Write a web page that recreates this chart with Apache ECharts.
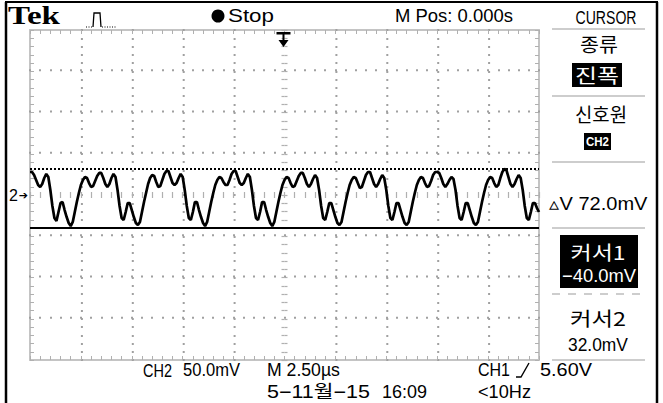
<!DOCTYPE html>
<html><head><meta charset="utf-8">
<script src="https://cdn.jsdelivr.net/npm/echarts@6/dist/echarts.min.js"></script>
<style>html,body{margin:0;padding:0;background:#fff;overflow:hidden}#c{width:663px;height:403px}</style>
</head><body><div id="c"></div>
<script>
// ---- data: CH2 trace, one reading per 0.1 us screen column ----
const timeUs = [
 -12.5,-12.4,-12.3,-12.2,-12.1,-12.0,-11.9,-11.8,-11.7,-11.6,
 -11.5,-11.4,-11.3,-11.2,-11.1,-11.0,-10.9,-10.8,-10.7,-10.6,
 -10.5,-10.4,-10.3,-10.2,-10.1,-10.0,-9.9,-9.8,-9.7,-9.6,
 -9.5,-9.4,-9.3,-9.2,-9.1,-9.0,-8.9,-8.8,-8.7,-8.6,
 -8.5,-8.4,-8.3,-8.2,-8.1,-8.0,-7.9,-7.8,-7.7,-7.6,
 -7.5,-7.4,-7.3,-7.2,-7.1,-7.0,-6.9,-6.8,-6.7,-6.6,
 -6.5,-6.4,-6.3,-6.2,-6.1,-6.0,-5.9,-5.8,-5.7,-5.6,
 -5.5,-5.4,-5.3,-5.2,-5.1,-5.0,-4.9,-4.8,-4.7,-4.6,
 -4.5,-4.4,-4.3,-4.2,-4.1,-4.0,-3.9,-3.8,-3.7,-3.6,
 -3.5,-3.4,-3.3,-3.2,-3.1,-3.0,-2.9,-2.8,-2.7,-2.6,
 -2.5,-2.4,-2.3,-2.2,-2.1,-2.0,-1.9,-1.8,-1.7,-1.6,
 -1.5,-1.4,-1.3,-1.2,-1.1,-1.0,-0.9,-0.8,-0.7,-0.6,
 -0.5,-0.4,-0.3,-0.2,-0.1,0.0,0.1,0.2,0.3,0.4,
 0.5,0.6,0.7,0.8,0.9,1.0,1.1,1.2,1.3,1.4,
 1.5,1.6,1.7,1.8,1.9,2.0,2.1,2.2,2.3,2.4,
 2.5,2.6,2.7,2.8,2.9,3.0,3.1,3.2,3.3,3.4,
 3.5,3.6,3.7,3.8,3.9,4.0,4.1,4.2,4.3,4.4,
 4.5,4.6,4.7,4.8,4.9,5.0,5.1,5.2,5.3,5.4,
 5.5,5.6,5.7,5.8,5.9,6.0,6.1,6.2,6.3,6.4,
 6.5,6.6,6.7,6.8,6.9,7.0,7.1,7.2,7.3,7.4,
 7.5,7.6,7.7,7.8,7.9,8.0,8.1,8.2,8.3,8.4,
 8.5,8.6,8.7,8.8,8.9,9.0,9.1,9.2,9.3,9.4,
 9.5,9.6,9.7,9.8,9.9,10.0,10.1,10.2,10.3,10.4,
 10.5,10.6,10.7,10.8,10.9,11.0,11.1,11.2,11.3,11.4,
 11.5,11.6,11.7,11.8,11.9,12.0,12.1,12.2,12.3,12.4,
 12.5
];
const ch2mV = [
 // partial cycle at the left edge
 27.9,27.9,24.2,18.2,12.1,9.7,13.3,20.6,25.5,21.8,6.1,-13.3,-27.9,-31.5,-20.6,-9.7,-8.5,-18.2,-26.7,-33.9,
 // cycle 1
 -37.6,-32.7,-20.6,-8.5,2.4,12.1,18.2,21.8,20.6,14.5,9.7,10.9,17.0,23.0,26.7,26.7,20.6,13.3,9.7,13.3,
 20.6,25.5,21.8,6.1,-13.3,-27.9,-30.3,-20.6,-9.7,-9.7,-18.2,-26.7,-33.9,
 // cycle 2
 -36.4,-32.7,-20.6,-8.5,2.4,13.3,20.6,24.2,23.0,15.8,9.7,10.9,18.2,25.5,29.1,29.1,21.8,14.5,12.1,14.5,
 20.6,25.5,21.8,6.1,-13.3,-27.9,-30.3,-20.6,-8.5,-8.5,-18.2,-26.7,-33.9,
 // cycle 3
 -37.6,-32.7,-20.6,-8.5,2.4,12.1,18.2,21.8,20.6,15.8,12.1,12.1,18.2,25.5,29.1,29.1,21.8,14.5,12.1,14.5,
 20.6,25.5,21.8,6.1,-13.3,-27.9,-30.3,-20.6,-8.5,-8.5,-18.2,-26.7,-33.9,
 // cycle 4
 -37.6,-32.7,-20.6,-8.5,2.4,12.1,18.2,21.8,20.6,14.5,9.7,10.9,17.0,23.0,26.7,26.7,20.6,13.3,9.7,13.3,
 19.4,24.2,20.6,6.1,-13.3,-27.9,-30.3,-20.6,-9.7,-9.7,-18.2,-26.7,-33.9,
 // cycle 5
 -36.4,-32.7,-20.6,-8.5,2.4,12.1,18.2,21.8,20.6,14.5,8.5,9.7,17.0,24.2,27.9,27.9,20.6,13.3,9.7,13.3,
 19.4,24.2,20.6,6.1,-13.3,-27.9,-30.3,-20.6,-9.7,-9.7,-18.2,-26.7,-33.9,
 // cycle 6
 -36.4,-32.7,-20.6,-8.5,2.4,12.1,18.2,21.8,20.6,14.5,9.7,10.9,17.0,24.2,27.9,27.9,26.7,20.6,13.3,9.7,
 13.3,18.2,21.8,19.4,6.1,-13.3,-27.9,-30.3,-20.6,-9.7,-9.7,-18.2,-26.7,-33.9,
 // cycle 7 (cut at the right edge)
 -36.4,-32.7,-20.6,-8.5,2.4,12.1,18.2,21.8,20.6,14.5,9.7,12.1,20.6,27.9,31.5,30.3,21.8,13.3,9.7,13.3,
 19.4,24.2,20.6,6.1,-13.3,-27.9,-30.3,-20.6,-9.7,-9.7,-15.8,-20.6
];
const cursor1mV = -40.0;
const cursor2mV = 32.0;
const triggerUs = 0;
const xRange = [-12.5, 12.5];   // 10 div x 2.50 us
const xDivUs = 2.5;
const yRange = [-200, 200];     // 8 div x 50.0 mV
const yDivMv = 50;
const groundLabel = '2';

// ---- texts ----
const topTexts = ['Tek', 'Stop', 'M Pos: 0.000s', 'CURSOR'];
const menuTexts = ['종류', '진폭', '신호원', 'CH2', '▵V 72.0mV', '커서1', '−40.0mV', '커서2', '32.0mV'];
const bottomTexts = ['CH2', '50.0mV', 'M 2.50µs', 'CH1', '5.60V', '5−11월−15', '16:09', '<10Hz'];

const SANS = '"Liberation Sans", "Noto Sans CJK KR", sans-serif';
const KR = '"Noto Sans CJK KR", sans-serif';
const grid = {left: 30, top: 30, width: 509, height: 330};
const tickC = '#b0b0b0';
const borderC = '#c4c4c4';
const dotC = '#a0a0a0';

const mctx = document.createElement('canvas').getContext('2d');
function fit(t, x, y, w, font, align, fill) {
  mctx.font = font;
  const m = mctx.measureText(t).width || w;
  return {
    type: 'text', x: x, y: y, scaleX: w / m, z: 100,
    style: {text: t, x: 0, y: 0, font: font, fill: fill || '#000',
      textAlign: align || 'left', textVerticalAlign: 'middle'}
  };
}
function line(x1, y1, x2, y2, c, w, dash) {
  return {type: 'line', z: 90, shape: {x1, y1, x2, y2},
    style: {stroke: c, lineWidth: w, lineDash: dash || null}};
}
function box(x, y, w, h) {
  return {type: 'rect', z: 95, shape: {x, y, width: w, height: h}, style: {fill: '#000'}};
}
const L18 = '18px ' + SANS;
const K19 = '19px ' + KR;

const graphics = [
  // frame
  line(6, 2, 6, 403, '#000', 2.5),
  line(657, 2, 657, 403, '#000', 2.5),
  line(5, 2, 658, 2, '#000', 2),
  // top row
  fit(topTexts[0], 8, 15, 52, 'bold 25px "Liberation Serif", serif'),
  line(86, 27, 93, 27, '#000', 1, [1, 1.5]),
  {type: 'polyline', z: 90, shape: {points: [[93, 27], [94, 13], [100, 13], [101, 27]]}, style: {stroke: '#000', lineWidth: 1.3, fill: null}},
  line(102, 27, 117, 27, '#000', 1, [1, 1.5]),
  {type: 'circle', z: 90, shape: {cx: 218, cy: 16, r: 6.5}, style: {fill: '#000'}},
  fit(topTexts[1], 228, 16, 46, L18),
  fit(topTexts[2], 395, 16, 118, L18),
  fit(topTexts[3], 606, 17, 61, L18, 'center'),
  // menu panel
  line(552, 29, 645, 29, '#bdbdbd', 1.5),
  fit(menuTexts[0], 599, 44, 38, K19, 'center'),
  box(572, 63, 50, 24),
  fit(menuTexts[1], 597, 75, 44, K19, 'center', '#fff'),
  line(552, 96, 645, 96, '#bdbdbd', 1.5),
  fit(menuTexts[2], 601, 113, 52, K19, 'center'),
  box(584, 133, 27, 17),
  fit(menuTexts[3], 597.5, 141.5, 23, 'bold 13px ' + SANS, 'center', '#fff'),
  line(552, 162, 645, 162, '#bdbdbd', 1.5),
  fit(menuTexts[4], 549, 204, 98, L18),
  line(552, 228, 645, 228, '#bdbdbd', 1.5),
  box(560, 235, 78, 53),
  fit(menuTexts[5], 598, 252, 55, K19, 'center', '#fff'),
  fit(menuTexts[6], 599, 276, 74, L18, 'center', '#fff'),
  line(552, 294, 645, 294, '#bdbdbd', 1.5, [8, 8]),
  fit(menuTexts[7], 598, 318, 56, K19, 'center'),
  fit(menuTexts[8], 598, 345, 60, L18, 'center'),
  line(552, 360, 645, 360, '#bdbdbd', 1.5),
  // bottom rows
  fit(bottomTexts[0], 143, 370, 29, L18),
  fit(bottomTexts[1], 183, 370, 57, L18),
  fit(bottomTexts[2], 267, 370, 73, L18),
  fit(bottomTexts[3], 478, 370, 32, L18),
  {type: 'polyline', z: 90, shape: {points: [[516, 377], [521, 377], [529, 363]]}, style: {stroke: '#000', lineWidth: 1.4, fill: null}},
  fit(bottomTexts[4], 540, 370, 52, L18),
  fit(bottomTexts[5], 267, 392, 103, L18),
  fit(bottomTexts[6], 382, 392, 45, L18),
  fit(bottomTexts[7], 478, 392, 53, L18)
];

// ---- axes: border, centre cross and the dotted graticule ----
const xCommon = {min: xRange[0], max: xRange[1], interval: xDivUs};
const yCommon = {min: yRange[0], max: yRange[1], interval: yDivMv};
function ax(common, extra, tickLen, tickW, inside, color, showLine) {
  return Object.assign({
    type: 'value', gridIndex: 0,
    axisLabel: {show: false}, splitLine: {show: false},
    axisLine: {show: !!showLine, onZero: false, lineStyle: {color: borderC, width: 2}},
    axisTick: {show: true, inside: inside, length: tickLen, lineStyle: {color: color, width: tickW}},
    minorTick: {show: true, splitNumber: 5, length: tickLen, lineStyle: {color: color, width: tickW}}
  }, common, extra);
}
const xAxes = [
  ax(xCommon, {position: 'bottom'}, 4, 1, true, tickC, true),
  ax(xCommon, {position: 'top'}, 4, 1, true, tickC, true),
  ax(xCommon, {position: 'bottom', offset: -grid.height / 2}, 3, 1.2, true, tickC),
  ax(xCommon, {position: 'bottom', offset: -grid.height / 2}, 3, 1.2, false, tickC)
];
for (let j = 1; j < 8; j++) {
  if (j === 4) continue;
  xAxes.push(ax(xCommon, {position: 'bottom', offset: -grid.height * j / 8}, 2, 2, true, dotC));
}
const yAxes = [
  ax(yCommon, {position: 'left', axisLabel: {show: true, margin: 2,
      formatter: v => v === 0 ? '{n|' + groundLabel + '}{a|➔}' : '',
      rich: {n: {fontSize: 16, fontFamily: 'Liberation Sans', color: '#000'},
             a: {fontSize: 11, fontFamily: 'DejaVu Sans', color: '#000', padding: [0, 0, 0, 1]}}}},
    4, 1, true, tickC, true),
  ax(yCommon, {position: 'right'}, 4, 1, true, tickC, true),
  ax(yCommon, {position: 'left', offset: -grid.width / 2}, 3, 1.2, true, tickC),
  ax(yCommon, {position: 'left', offset: -grid.width / 2}, 3, 1.2, false, tickC)
];
for (let i = 1; i < 10; i++) {
  if (i === 5) continue;
  yAxes.push(ax(yCommon, {position: 'left', offset: -grid.width * i / 10}, 2, 2, true, dotC));
}

const chart = echarts.init(document.getElementById('c'), null, {renderer: 'svg'});
chart.setOption({
  animation: false,
  backgroundColor: '#fff',
  grid: grid,
  xAxis: xAxes,
  yAxis: yAxes,
  series: [{
    type: 'line', xAxisIndex: 0, yAxisIndex: 0,
    data: timeUs.map((t, i) => [t, ch2mV[i]]),
    symbol: 'none', showSymbol: false, z: 10,
    lineStyle: {color: '#000', width: 2.7},
    markLine: {
      silent: true, symbol: ['none', 'none'], label: {show: false},
      data: [
        {yAxis: cursor2mV, lineStyle: {color: '#000', width: 2, type: [2, 2]}},
        {yAxis: cursor1mV, lineStyle: {color: '#000', width: 2.2, type: 'solid'}}
      ]
    },
    markPoint: {
      silent: true, label: {show: false},
      data: [{coord: [triggerUs, yRange[1]],
        symbol: 'path://M0,0 L14,0 L14,2.5 L8,2.5 L8,8 L12,8 L7,15 L2,8 L6,8 L6,2.5 L0,2.5 Z',
        symbolSize: [14, 15], symbolOffset: [-1, 9.5], itemStyle: {color: '#000'}}]
    }
  }],
  graphic: graphics
});
</script>
</body></html>
